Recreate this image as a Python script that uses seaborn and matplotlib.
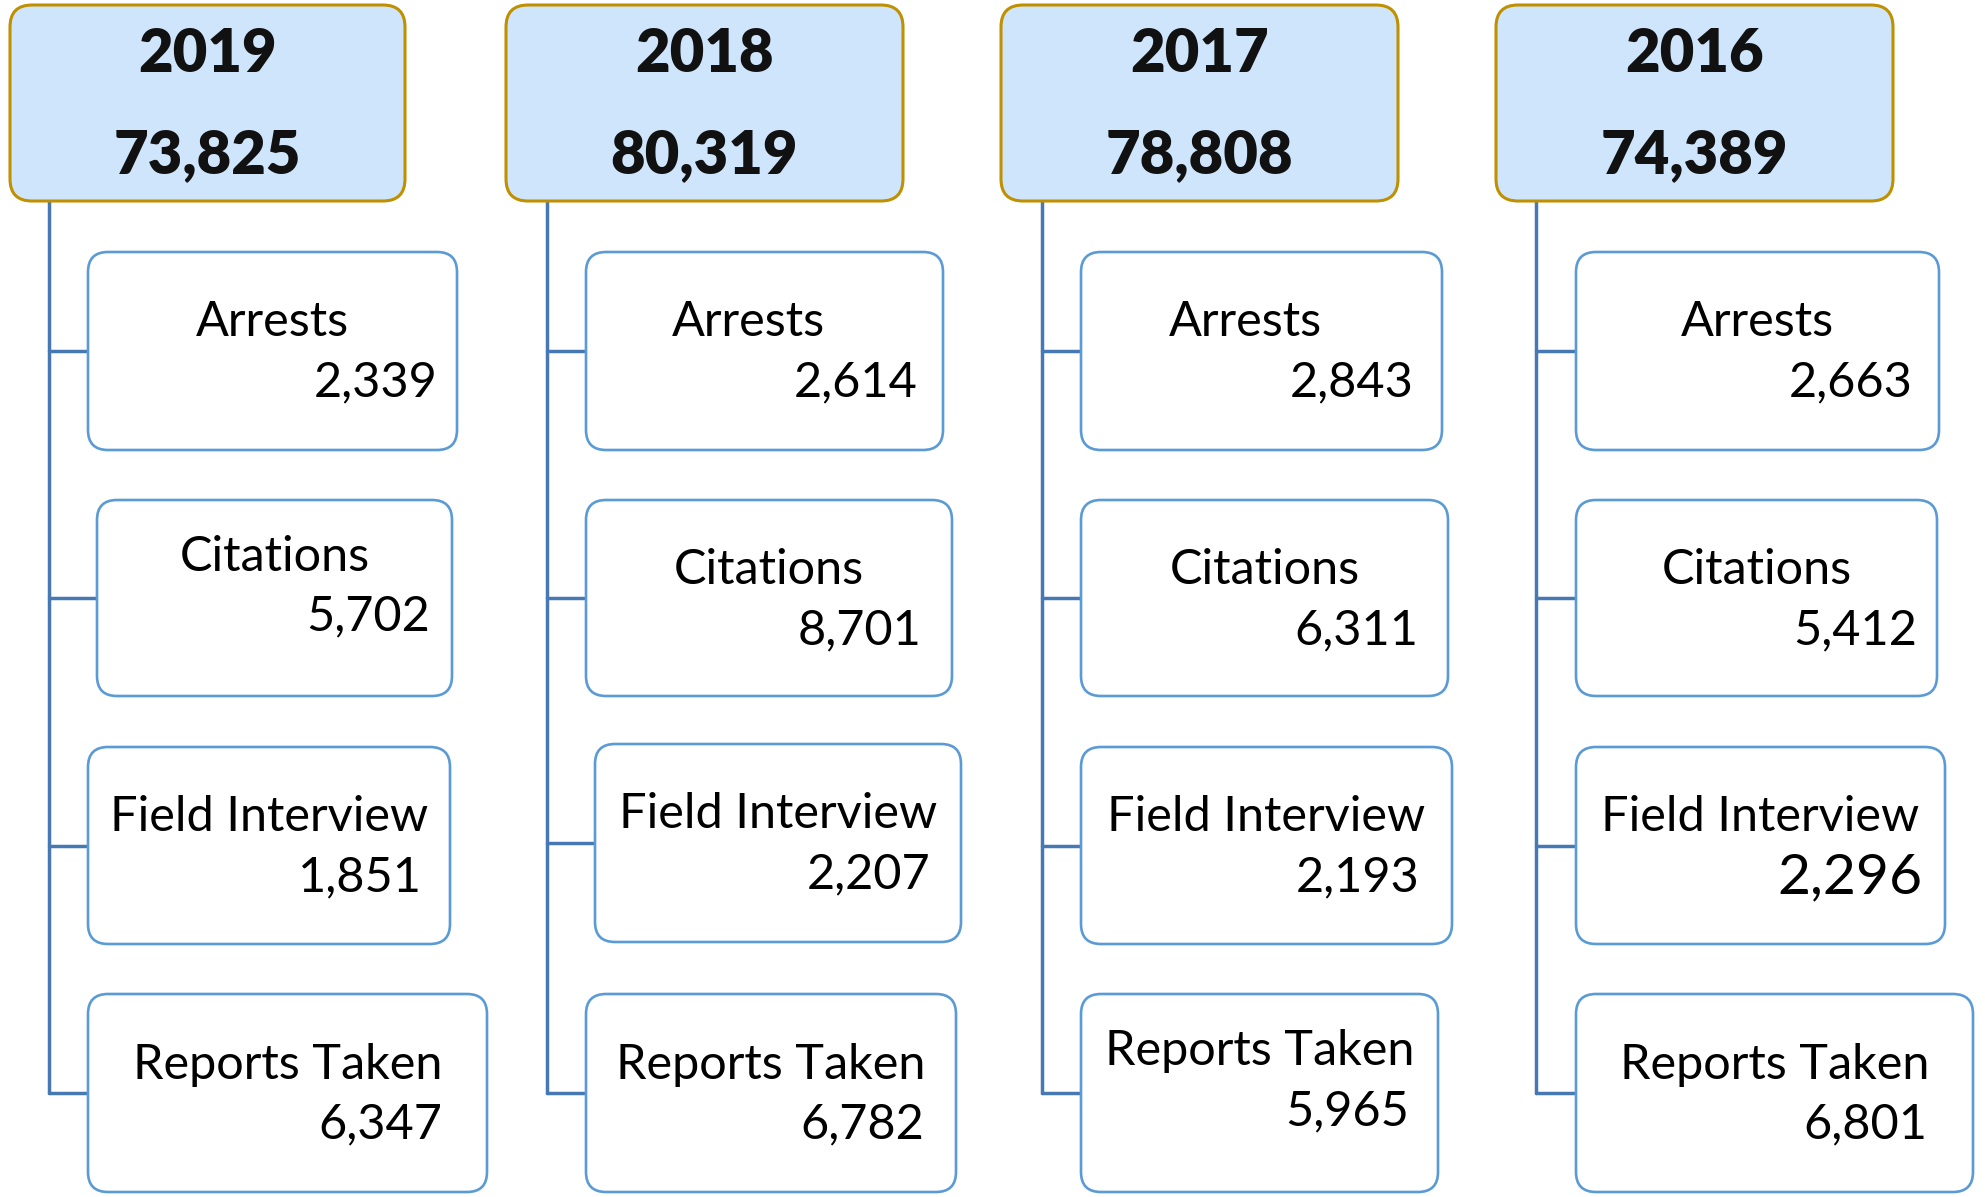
import pandas as pd
import matplotlib.pyplot as plt
import seaborn as sns
from matplotlib.patches import FancyBboxPatch

# Style first, fonts after (set_theme resets font.family)
sns.set_theme(style='white')
plt.rcParams['font.family'] = ['Lato', 'DejaVu Sans']

# Data
years = ['2019', '2018', '2017', '2016']
totals = [73825, 80319, 78808, 74389]
categories = ['Arrests', 'Citations', 'Field Interview', 'Reports Taken']
arrests = [2339, 2614, 2843, 2663]
citations = [5702, 8701, 6311, 5412]
field_interviews = [1851, 2207, 2193, 2296]
reports_taken = [6347, 6782, 5965, 6801]

# Layout (pixels of the 1985x1197 canvas)
header_x = [(10, 405), (506, 903), (1001, 1398), (1496, 1893)]
header_y = (5, 201)
trunk_x = [49, 547, 1042, 1536]
child_x = [
    [(88, 457), (97, 452), (88, 450), (88, 487)],
    [(586, 943), (586, 952), (595, 961), (586, 956)],
    [(1081, 1442), (1081, 1448), (1081, 1452), (1081, 1438)],
    [(1576, 1939), (1576, 1937), (1576, 1945), (1576, 1973)],
]
child_y = [
    [(252, 450), (500, 696), (747, 944), (994, 1192)],
    [(252, 450), (500, 696), (744, 942), (994, 1192)],
    [(252, 450), (500, 696), (747, 944), (994, 1192)],
    [(252, 450), (500, 696), (747, 944), (994, 1192)],
]
num_right = [
    [438, 430, 422, 442],
    [918, 922, 930, 924],
    [1414, 1418, 1419, 1409],
    [1913, 1917, 1923, 1927],
]
# label shift from box centre (a couple of labels sit off-centre)
label_dx = [
    [0, 0, 0, 0],
    [-16, 0, 0, 0],
    [-16, 0, 0, 0],
    [0, 0, 0, 0],
]
# baseline offsets from box top: (label, number)
text_off = [
    [(84, 144), (71, 130), (84, 144), (85, 144)],
    [(84, 144), (84, 144), (84, 144), (85, 144)],
    [(84, 144), (84, 144), (84, 144), (71, 131)],
    [(84, 144), (84, 144), (84, 146), (85, 144)],
]

HEAD_FILL = '#cfe5fc'
HEAD_EDGE = '#bf9000'
CHILD_EDGE = '#5b9bd5'
LINE_COLOR = '#4678b4'

values = [arrests, citations, field_interviews, reports_taken]

fig = plt.figure(figsize=(19.85, 11.97), dpi=100)
ax = fig.add_axes([0, 0, 1, 1])

# connector lines as a tidy table, drawn with seaborn
rows = []
for i in range(len(years)):
    last_mid = sum(child_y[i][-1]) / 2
    rows.append({'seg': f'{i}-trunk', 'x': trunk_x[i], 'y': header_y[1]})
    rows.append({'seg': f'{i}-trunk', 'x': trunk_x[i], 'y': last_mid})
    for j in range(len(categories)):
        mid = sum(child_y[i][j]) / 2
        rows.append({'seg': f'{i}-{j}', 'x': trunk_x[i], 'y': mid})
        rows.append({'seg': f'{i}-{j}', 'x': child_x[i][j][0], 'y': mid})
lines = pd.DataFrame(rows)
sns.lineplot(data=lines, x='x', y='y', units='seg', estimator=None, sort=False,
             color=LINE_COLOR, linewidth=2.5, ax=ax, legend=False)
ax.set_xlim(0, 1985)
ax.set_ylim(1197, 0)
ax.axis('off')

for i, yr in enumerate(years):
    x0, x1 = header_x[i]
    y0, y1 = header_y
    ax.add_patch(FancyBboxPatch((x0, y0), x1 - x0, y1 - y0,
                                boxstyle='round,pad=0,rounding_size=22',
                                facecolor=HEAD_FILL, edgecolor=HEAD_EDGE,
                                linewidth=2.2, zorder=3))
    cx = (x0 + x1) / 2
    ax.text(cx, 72, yr, ha='center', va='baseline', fontsize=43,
            fontweight='heavy', color='#111111', zorder=4)
    ax.text(cx, 173, f'{totals[i]:,}', ha='center', va='baseline', fontsize=43,
            fontweight='heavy', color='#111111', zorder=4)

    for j, cat in enumerate(categories):
        bx0, bx1 = child_x[i][j]
        by0, by1 = child_y[i][j]
        ax.add_patch(FancyBboxPatch((bx0, by0), bx1 - bx0, by1 - by0,
                                    boxstyle='round,pad=0,rounding_size=20',
                                    facecolor='white', edgecolor=CHILD_EDGE,
                                    linewidth=1.9, zorder=3))
        lo, no = text_off[i][j]
        ax.text((bx0 + bx1) / 2 + label_dx[i][j], by0 + lo, cat, ha='center',
                va='baseline', fontsize=35, color='black', zorder=4)
        size = 41 if (i == 3 and j == 2) else 35
        ax.text(num_right[i][j], by0 + no, f'{values[j][i]:,}', ha='right',
                va='baseline', fontsize=size, color='black', zorder=4)

fig.savefig('out.png', dpi=100, facecolor='white')
